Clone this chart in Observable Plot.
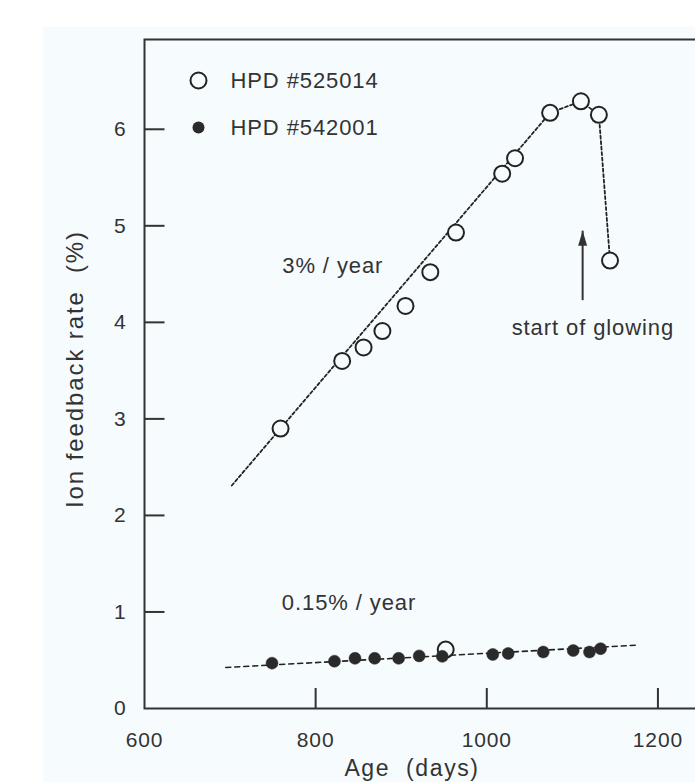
<!DOCTYPE html>
<html><head><meta charset="utf-8">
<script src="https://cdn.jsdelivr.net/npm/d3@7"></script>
<script src="https://cdn.jsdelivr.net/npm/@observablehq/plot@0.6"></script>
<style>
html,body{margin:0;padding:0;background:#fff;overflow:hidden}
#wrap{position:relative;width:695px;height:782px;overflow:hidden;background:#fff}
#bg{position:absolute;left:43px;top:27px;right:0;bottom:0;background:#f6fbfe}
#chart{position:absolute;left:0;top:0;width:763px;height:800px}
#chart svg{max-width:none !important;width:763px;height:800px}
svg text{white-space:pre}
</style></head><body><div id="wrap"><div id="bg"></div><div id="chart"></div></div>
<script>
// Data
const series = ["HPD #525014", "HPD #542001"];
const openX = [759, 831, 856, 878, 905, 934, 964, 1018, 1033, 1074, 1110, 1131, 1144, 952];
const openY = [2.90, 3.60, 3.74, 3.91, 4.17, 4.52, 4.93, 5.54, 5.70, 6.17, 6.29, 6.15, 4.64, 0.61];
const filledX = [749, 822, 846, 869, 897, 921, 948, 1007, 1025, 1066, 1101, 1120, 1133];
const filledY = [0.47, 0.49, 0.52, 0.52, 0.52, 0.545, 0.54, 0.56, 0.57, 0.585, 0.60, 0.585, 0.62];
const trendOpenX = [702, 1074, 1110, 1131, 1144];
const trendOpenY = [2.31, 6.17, 6.29, 6.15, 4.64];
const trendFilledX = [695, 1175];
const trendFilledY = [0.425, 0.656];
const xTicks = [600, 800, 1000, 1200];
const yTicks = [0, 1, 2, 3, 4, 5, 6];
const annotText = ["3% / year", "0.15% / year", "start of glowing"];
const annotX = [820, 839, 1124];
const annotY = [4.58, 1.09, 3.94];
const arrowX = [1112];
const arrowY1 = [4.23];
const arrowY2 = [4.95];
const xTitle = "Age  (days)";
const yTitle = "Ion feedback rate  (%)";

const W = 763, H = 800, ML = 144, MR = 20, MT = 39, MB = 92, TICK = 20;
const xDomain = [600, 1300];
const bg = "#f6fbfe";
const ink = "#333";
const daysPerPx = (xDomain[1] - xDomain[0]) / (W - ML - MR);
const openData = openX.map((x, i) => ({x, y: openY[i]}));
const filledData = filledX.map((x, i) => ({x, y: filledY[i]}));
const trendOpen = trendOpenX.map((x, i) => ({x, y: trendOpenY[i]}));
const trendFilled = trendFilledX.map((x, i) => ({x, y: trendFilledY[i]}));
const annots = annotText.map((t, i) => ({t, x: annotX[i], y: annotY[i]}));
const arrows = arrowX.map((x, i) => ({x, y1: arrowY1[i], y2: arrowY2[i]}));
const yTickData = yTicks.slice(1).map(v => ({v, x1: xDomain[0], x2: xDomain[0] + TICK * daysPerPx}));
const headSymbol = {draw(ctx) { ctx.moveTo(0, -7.5); ctx.lineTo(4.5, 7.5); ctx.lineTo(-4.5, 7.5); ctx.closePath(); }};

const chart = Plot.plot({
  width: W, height: H,
  marginLeft: ML, marginRight: MR, marginTop: MT, marginBottom: MB,
  x: {domain: xDomain},
  y: {domain: [0, 6.93]},
  style: {fontFamily: "'Liberation Sans', Arial, sans-serif", fontSize: "21px", color: ink, background: "transparent", overflow: "visible", letterSpacing: "0.9px"},
  marks: [
    Plot.axisX({ticks: xTicks.slice(1), tickSize: -TICK, stroke: ink, strokeWidth: 2, tickFormat: () => "", label: null}),
    Plot.axisX({ticks: xTicks, tickSize: 0, tickPadding: 24, fill: ink, fontSize: 21, label: null, tickFormat: d => String(d)}),
    Plot.axisY({ticks: yTicks, tickSize: 0, tickPadding: 18, fill: ink, fontSize: 21, label: null, tickFormat: d => String(d)}),
    Plot.frame({stroke: ink, strokeWidth: 2}),
    Plot.line(trendOpen, {x: "x", y: "y", stroke: "#222", strokeWidth: 1.8, strokeDasharray: "3,2.5"}),
    Plot.dot(openData, {x: "x", y: "y", r: 8, stroke: "#222", strokeWidth: 2, fill: bg}),
    Plot.line(trendFilled, {x: "x", y: "y", stroke: "#222", strokeWidth: 1.6, strokeDasharray: "5,4"}),
    Plot.dot(filledData, {x: "x", y: "y", r: 6, fill: "#2a2a2a", stroke: "#2a2a2a", strokeWidth: 0.5}),
    Plot.text(annots, {x: "x", y: "y", text: "t", fontSize: 22, fill: ink, textAnchor: "middle"}),
    Plot.link(arrows, {x1: "x", x2: "x", y1: "y1", y2: "y2", stroke: ink, strokeWidth: 2}),
    Plot.dot(arrows, {x: "x", y: "y2", symbol: headSymbol, fill: ink, stroke: "none", dy: 7.5}),
    // legend
    Plot.dot([series[0]], {frameAnchor: "top-left", dx: 54, dy: 41, r: 8, stroke: "#222", strokeWidth: 2, fill: bg}),
    Plot.dot([series[1]], {frameAnchor: "top-left", dx: 54, dy: 88, r: 6, fill: "#2a2a2a"}),
    Plot.text([series[0]], {frameAnchor: "top-left", dx: 86, dy: 41, text: d => d, textAnchor: "start", lineAnchor: "middle", fontSize: 22, fill: ink}),
    Plot.text([series[1]], {frameAnchor: "top-left", dx: 86, dy: 88, text: d => d, textAnchor: "start", lineAnchor: "middle", fontSize: 22, fill: ink}),
    // axis titles
    Plot.text([xTitle], {frameAnchor: "bottom", dx: -32, dy: 67, textAnchor: "middle", lineAnchor: "bottom", text: d => d, fontSize: 23, fill: ink}),
    Plot.text([yTitle], {frameAnchor: "left", dx: -69, dy: -5, rotate: -90, textAnchor: "middle", lineAnchor: "middle", text: d => d, fontSize: 24, fill: ink}),
    // inward y ticks, drawn last
    Plot.link(yTickData, {x1: "x1", x2: "x2", y1: "v", y2: "v", stroke: ink, strokeWidth: 2})
  ]
});
document.getElementById("chart").appendChild(chart);
chart.querySelectorAll("text").forEach(t => { if (t.textContent === yTitle) t.style.letterSpacing = "1.9px"; if (t.textContent === xTitle) t.style.letterSpacing = "1.6px"; });
</script></body></html>
